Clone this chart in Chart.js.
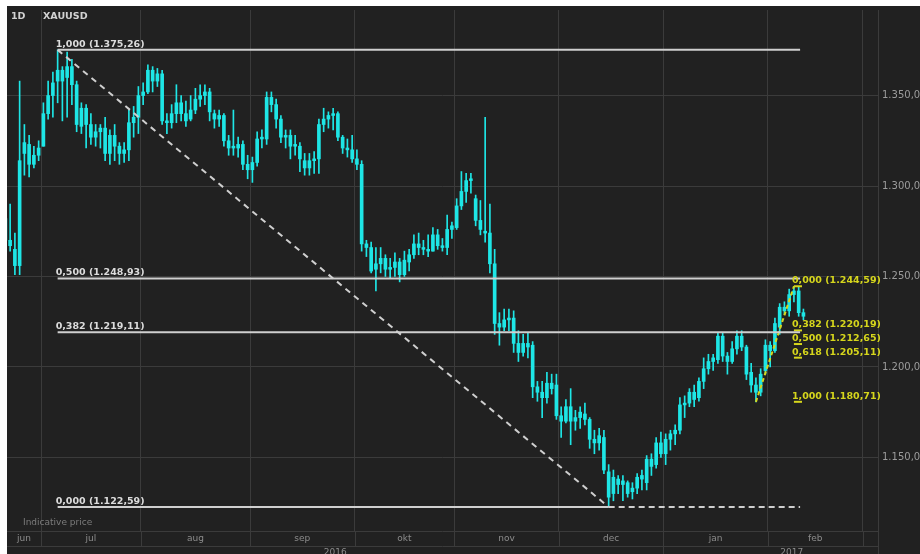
<!DOCTYPE html>
<html>
<head>
<meta charset="utf-8">
<style>
html, body { margin: 0; padding: 0; background: #fff; }
#wrap { position: relative; width: 920px; height: 554px; overflow: hidden; }
canvas { position: absolute; left: 0; top: 0; }
</style>
<script src="https://cdn.jsdelivr.net/npm/chart.js@4.4.1/dist/chart.umd.min.js"></script>
</head>
<body>
<div id="wrap"><canvas id="chart" width="920" height="554"></canvas></div>
<script>
// ============================================
// XAUUSD daily candles + fibonacci retracements
// ============================================

// trading day index of the first candle (0 = 1 jul 2016)
const firstDay = -8;

const opens = [1282,1270,1265,1256,1318,1323,1312,1317,
  1322,1340,1350,1358,1364,1360,1366,1356,1333,1343,1334,1327,1330,1332,1318,1328,1322,1318,1320,1335,1338,
  1350,1352,1364,1358,1362,1336,1335,1340,1346,1340,1337,1342,1348,1350,1352,1340,1337,1339,1325,1322,1321,1323,1312,
  1309,1313,1326,1326,1349,1345,1337,1327,1328,1322,1322,1314,1310,1314,1315,1334,1337,1339,1340,1327,1321,1320,
  1315,1312,1268,1266,1254,1257,1260,1254,1255,1258,1251,1258,1262,1268,1266,1265,1264,1273,1267,1266,1276,
  1277,1289,1297,1303,1293,1281,1275,1274,1257,1224,1222,1226,1227,1213,1208,1213,1212,1189,1186,1183,1191,1190,
  1173,1170,1178,1170,1172,1174,1171,1160,1158,1161,1142,1130,1138,1135,1136,1131,1133,1138,1136,1149,1146,1158,
  1152,1160,1163,1165,1179,1180,1186,1183,1192,1199,1203,1204,1217,1206,1203,1210,1217,1211,1197,1190,1186,1198,
  1212,1209,1222,1233,1231,1240,1242,1230];
const highs = [1290,1290,1274,1358,1334,1328,1322,1325,
  1346,1358,1363,1375.26,1366,1374,1370,1358,1346,1345,1340,1334,1334,1338,1331,1334,1324,1324,1342,1344,1355,
  1357,1367,1366,1365,1364,1340,1345,1356,1350,1347,1350,1354,1356,1356,1354,1342,1342,1340,1328,1342,1327,1325,1317,
  1316,1330,1331,1352,1352,1348,1339,1331,1331,1328,1324,1318,1318,1319,1337,1343,1341,1343,1341,1328,1326,1328,
  1320,1314,1270,1269,1266,1266,1262,1260,1263,1260,1264,1265,1273,1274,1270,1273,1277,1276,1271,1284,1280,
  1293,1308,1307,1307,1295,1292,1338,1290,1265,1230,1232,1232,1231,1220,1218,1219,1214,1192,1192,1197,1196,1196,
  1178,1182,1188,1176,1178,1180,1172,1165,1166,1165,1146,1143,1140,1140,1137,1136,1141,1143,1151,1152,1161,1164,
  1163,1165,1168,1183,1184,1188,1190,1194,1205,1207,1207,1219,1219,1208,1214,1220,1220,1212,1202,1194,1199,1215,
  1214,1227,1235,1236,1243,1244.59,1244,1232];
const lows = [1265,1264,1251,1251,1306,1305,1310,1314,
  1322,1337,1338,1346,1336,1338,1345,1330,1329,1321,1323,1322,1321,1314,1312,1314,1312,1313,1314,1327,1329,
  1345,1351,1352,1355,1334,1329,1332,1335,1336,1333,1336,1340,1344,1345,1336,1332,1333,1322,1317,1317,1316,1309,1304,
  1302,1311,1321,1323,1341,1332,1324,1321,1315,1317,1308,1306,1306,1307,1307,1330,1332,1331,1325,1318,1316,1313,
  1309,1264,1261,1252,1242,1252,1250,1249,1250,1247,1250,1253,1260,1262,1262,1261,1264,1265,1264,1262,1271,
  1276,1287,1291,1296,1278,1273,1269,1252,1218,1212,1220,1220,1208,1203,1206,1205,1183,1181,1172,1180,1185,1171,
  1161,1169,1157,1165,1166,1168,1155,1152,1154,1141,1122.59,1126,1130,1126,1128,1127,1130,1132,1132,1140,1144,1150,
  1146,1154,1157,1163,1172,1178,1178,1181,1188,1196,1198,1202,1203,1196,1202,1207,1209,1193,1186,1180.71,1184,1196,
  1200,1208,1218,1229,1228,1236,1228,1226];
const closes = [1270,1267,1256,1314,1324,1312,1317,1321,
  1340,1350,1357,1364,1358,1366,1356,1334,1343,1334,1327,1330,1332,1318,1328,1322,1318,1320,1335,1338,1350,
  1352,1364,1358,1362,1336,1335,1340,1346,1340,1336,1342,1348,1350,1352,1341,1337,1339,1325,1321,1321,1323,1312,1309,
  1313,1326,1327,1349,1345,1337,1327,1328,1322,1323,1315,1310,1314,1315,1334,1337,1339,1340,1327,1321,1320,1315,
  1312,1268,1266,1253,1257,1260,1254,1255,1258,1251,1259,1262,1268,1266,1265,1264,1273,1267,1266,1276,1278,
  1289,1297,1303,1304,1281,1276,1274,1257,1224,1222,1226,1227,1213,1208,1213,1211,1189,1186,1183,1191,1188,1173,
  1170,1178,1170,1172,1175,1171,1160,1158,1162,1143,1128,1139,1135,1137,1130,1133,1139,1140,1149,1145,1158,1152,
  1160,1163,1165,1179,1180,1186,1182,1192,1199,1203,1205,1217,1206,1203,1210,1217,1211,1196,1190,1186,1196,1212,
  1209,1224,1233,1231,1240,1242,1230,1228];

// month boundaries (trading day index) and labels
const monthEdges = [-22.5, -0.5, 20.5, 43.5, 65.5, 86.5, 108.5, 130.5, 152.5, 172.5];
const monthLabels = ['jun', 'jul', 'aug', 'sep', 'okt', 'nov', 'dec', 'jan', 'feb'];
const yearLabels = ['2016', '2017'];
const yearEdge = 130.5;

// price ticks
const priceTicks = [1150, 1200, 1250, 1300, 1350];

// fibonacci 1: from the july high to the december low
const fibA = { highDay: 3, lowDay: 119, endDay: 159.3, high: 1375.26, low: 1122.59 };
const fibARatios = [1.000, 0.500, 0.382, 0.000];
const fibAValues = [1375.26, 1248.93, 1219.11, 1122.59];

// fibonacci 2: from the january low to the february high
const fibB = { lowDay: 150, highDay: 158, endDay: 159.7, high: 1244.59, low: 1180.71 };
const fibBRatios = [0.000, 0.382, 0.500, 0.618, 1.000];
const fibBValues = [1244.59, 1220.19, 1212.65, 1205.11, 1180.71];

const days = opens.map((_, k) => firstDay + k);

const candleColor = '#1ee6e6';
const fibGrey = '#cfcfcf';
const fibYellow = '#d6d61c';
const gridColor = '#3b3b3b';
const bgColor = '#212121';
const fontFamily = '"DejaVu Sans", Verdana, sans-serif';

function euro(v, d) {
    const parts = v.toFixed(d).split('.');
    const int = parts[0].replace(/\B(?=(\d{3})+(?!\d))/g, '.');
    return parts[1] ? int + ',' + parts[1] : int;
}
function fibText(r, v) {
    return r.toFixed(3).replace('.', ',') + ' (' + euro(v, 2) + ')';
}

// fib line datasets
const fibSets = [];
fibAValues.forEach((v, k) => {
    const end = fibARatios[k] === 0 ? fibA.lowDay : fibA.endDay;
    fibSets.push({ type: 'line', data: [{ x: fibA.highDay, y: v }, { x: end, y: v }],
        borderColor: fibGrey, borderWidth: 2, pointRadius: 0, order: 0 });
});
fibSets.push({ type: 'line', data: [{ x: fibA.lowDay, y: fibA.low }, { x: fibA.endDay, y: fibA.low }],
    borderColor: fibGrey, borderWidth: 2, borderDash: [6, 4], pointRadius: 0, order: 0 });
fibSets.push({ type: 'line', data: [{ x: fibA.highDay, y: fibA.high }, { x: fibA.lowDay, y: fibA.low }],
    borderColor: fibGrey, borderWidth: 2, borderDash: [6, 5], pointRadius: 0, order: 0 });
fibBValues.forEach(v => {
    fibSets.push({ type: 'line', data: [{ x: fibB.highDay, y: v }, { x: fibB.endDay, y: v }],
        borderColor: fibYellow, borderWidth: 2, pointRadius: 0, order: 0 });
});
fibSets.push({ type: 'line', data: [{ x: fibB.lowDay, y: fibB.low }, { x: fibB.highDay, y: fibB.high }],
    borderColor: fibYellow, borderWidth: 2, borderDash: [4, 3], pointRadius: 0, order: 0 });

// background, axis strip and labels
const decorPlugin = {
    id: 'decor',
    beforeDraw(chart) {
        const c = chart.ctx;
        c.save();
        c.fillStyle = '#fff';
        c.fillRect(0, 0, chart.width, chart.height);
        c.fillStyle = bgColor;
        c.fillRect(7, 6, chart.width - 7, chart.height - 6);
        c.restore();
    },
    afterDraw(chart) {
        const c = chart.ctx;
        const a = chart.chartArea;
        const xs = chart.scales.x, ys = chart.scales.y;
        c.save();
        c.strokeStyle = gridColor;
        c.lineWidth = 1;
        c.beginPath();
        c.moveTo(a.left, a.bottom + 0.5); c.lineTo(a.right, a.bottom + 0.5);
        c.moveTo(a.left, a.bottom + 15.5); c.lineTo(a.right, a.bottom + 15.5);
        monthEdges.forEach(e => {
            const px = Math.round(xs.getPixelForValue(e)) + 0.5;
            if (px > a.left && px < a.right) { c.moveTo(px, a.bottom); c.lineTo(px, a.bottom + 15); }
        });
        const yPx = Math.round(xs.getPixelForValue(yearEdge)) + 0.5;
        c.moveTo(yPx, a.bottom); c.lineTo(yPx, chart.height);
        c.moveTo(a.right + 0.5, a.top); c.lineTo(a.right + 0.5, chart.height);
        c.stroke();

        // month + year labels
        c.fillStyle = '#8c8c8c';
        c.font = '9px ' + fontFamily;
        c.textAlign = 'center';
        c.textBaseline = 'middle';
        monthLabels.forEach((m, k) => {
            const l = Math.max(a.left, xs.getPixelForValue(monthEdges[k]));
            const r = Math.min(a.right, xs.getPixelForValue(monthEdges[k + 1]));
            c.fillText(m, (l + r) / 2, a.bottom + 8);
        });
        c.textBaseline = 'top';
        c.fillText(yearLabels[0], (a.left + yPx) / 2, a.bottom + 17);
        c.fillText(yearLabels[1], (yPx + chart.width) / 2, a.bottom + 17);

        c.textAlign = 'left';
        c.textBaseline = 'middle';
        c.fillStyle = '#7c7c7c';
        c.fillText('Indicative price', 23, a.bottom - 8);

        c.fillStyle = '#d2d2d2';
        c.font = 'bold 9.5px ' + fontFamily;
        c.fillText('1D', 11, 17);
        c.fillText('XAUUSD', 43, 17);

        // fib labels
        c.textBaseline = 'alphabetic';
        c.fillStyle = '#dcdcdc';
        fibAValues.forEach((v, k) => {
            c.fillText(fibText(fibARatios[k], v), xs.getPixelForValue(fibA.highDay) - 2, ys.getPixelForValue(v) - 3);
        });
        c.fillStyle = fibYellow;
        fibBValues.forEach((v, k) => {
            c.fillText(fibText(fibBRatios[k], v), xs.getPixelForValue(fibB.highDay) - 2, ys.getPixelForValue(v) - 3);
        });
        c.restore();
    }
};

new Chart(document.getElementById('chart'), {
    type: 'bar',
    data: {
        datasets: [
            {
                label: 'wick',
                data: days.map((d, k) => ({ x: d, y: [lows[k], highs[k]] })),
                backgroundColor: candleColor,
                barThickness: 1,
                grouped: false,
                order: 2
            },
            {
                label: 'body',
                data: days.map((d, k) => ({ x: d, y: [opens[k], closes[k]] })),
                backgroundColor: candleColor,
                barThickness: 3,
                minBarLength: 1,
                grouped: false,
                order: 1
            },
            ...fibSets
        ]
    },
    options: {
        responsive: false,
        animation: false,
        devicePixelRatio: 1,
        layout: { padding: { left: 7, top: 7, right: 0, bottom: 0 } },
        plugins: { legend: { display: false }, tooltip: { enabled: false } },
        scales: {
            x: {
                type: 'linear',
                min: -7.66,
                max: 175.7,
                offset: false,
                afterBuildTicks: s => { s.ticks = monthEdges.map(v => ({ value: v })); },
                afterFit: s => { s.height = 23; },
                ticks: { display: false },
                grid: { color: gridColor, drawTicks: false, offset: false },
                border: { display: false }
            },
            y: {
                position: 'right',
                min: 1109.3,
                max: 1397.3,
                afterBuildTicks: s => { s.ticks = priceTicks.map(v => ({ value: v })); },
                afterFit: s => { s.width = 42; },
                ticks: {
                    color: '#9c9c9c',
                    padding: 4,
                    font: { size: 10, family: fontFamily },
                    callback: v => euro(v, 2)
                },
                grid: { color: gridColor, drawTicks: false },
                border: { display: false }
            }
        }
    },
    plugins: [decorPlugin]
});
</script>
</body>
</html>
